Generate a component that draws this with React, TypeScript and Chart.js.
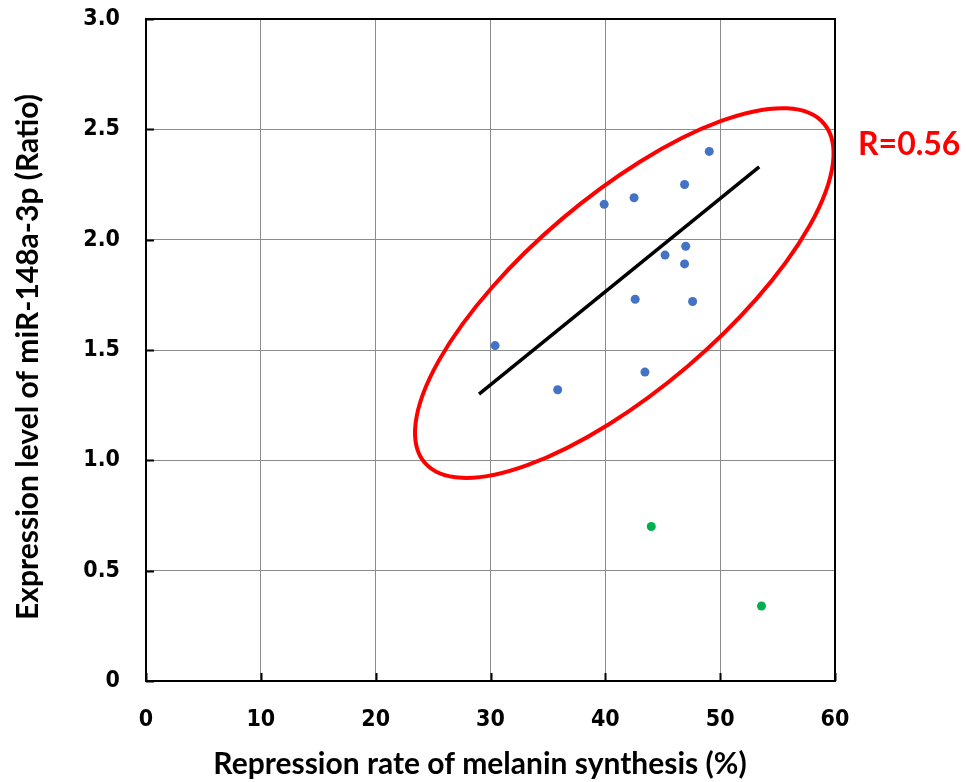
import React, { useEffect, useRef } from "react";
import { Chart, registerables } from "chart.js";

Chart.register(...registerables);

// Blue group (inside ellipse)
const blueX = [30.4, 35.85, 39.9, 42.5, 46.9, 49.05, 45.2, 47.0, 46.9, 42.6, 47.6, 43.45];
const blueY = [1.52, 1.32, 2.16, 2.19, 2.25, 2.40, 1.93, 1.97, 1.89, 1.73, 1.72, 1.40];
// Green outliers
const greenX = [44.0, 53.6];
const greenY = [0.70, 0.34];
// Regression line end points
const lineX = [29.0, 53.4];
const lineY = [1.30, 2.33];
// Ellipse (data units): center, end of major semi-axis, end of minor semi-axis
const ellipseCenter = [41.65, 1.758];
const ellipseMajorEnd = [59.04, 2.526];
const ellipseMinorEnd = [47.1, 1.423];
// Axis ticks
const xTicks = [0, 10, 20, 30, 40, 50, 60];
const yTicks = [0, 0.5, 1.0, 1.5, 2.0, 2.5, 3.0];
const annotationText = "R=0.56";
const xTitle = "Repression rate of melanin synthesis (%)";
const yTitle = "Expression level of miR-148a-3p (Ratio)";

const tickFont = { family: "'DejaVu Sans Condensed', 'DejaVu Sans'", weight: "bold", size: 23 };

const frameAndExtras = {
  id: "frameAndExtras",
  afterDatasetsDraw(chart: any) {
    const { ctx, scales } = chart;
    const xs = scales.x;
    const ys = scales.y;
    ctx.save();
    const cx = xs.getPixelForValue(ellipseCenter[0]);
    const cy = ys.getPixelForValue(ellipseCenter[1]);
    const ux = xs.getPixelForValue(ellipseMajorEnd[0]) - cx;
    const uy = ys.getPixelForValue(ellipseMajorEnd[1]) - cy;
    const vx = xs.getPixelForValue(ellipseMinorEnd[0]) - cx;
    const vy = ys.getPixelForValue(ellipseMinorEnd[1]) - cy;
    ctx.save();
    ctx.translate(cx, cy);
    ctx.transform(ux, uy, vx, vy, 0, 0);
    ctx.beginPath();
    ctx.arc(0, 0, 1, 0, Math.PI * 2);
    ctx.restore();
    ctx.strokeStyle = "#FF0000";
    ctx.lineWidth = 4;
    ctx.stroke();
    ctx.restore();
  },
  afterDraw(chart: any) {
    const { ctx, chartArea, scales } = chart;
    const xs = scales.x;
    const ys = scales.y;
    ctx.save();
    ctx.strokeStyle = "#000";
    ctx.lineWidth = 2;
    ctx.strokeRect(chartArea.left, chartArea.top, chartArea.right - chartArea.left, chartArea.bottom - chartArea.top);
    ctx.beginPath();
    xTicks.forEach((t) => {
      const p = Math.round(xs.getPixelForValue(t)) + 0.5;
      ctx.moveTo(p, chartArea.bottom);
      ctx.lineTo(p, chartArea.bottom - 8);
    });
    yTicks.forEach((t) => {
      const p = Math.round(ys.getPixelForValue(t)) + 0.5;
      ctx.moveTo(chartArea.left, p);
      ctx.lineTo(chartArea.left + 8, p);
    });
    ctx.stroke();
    // axis titles
    ctx.fillStyle = "#000";
    ctx.font = "bold 30px Lato";
    ctx.textAlign = "center";
    ctx.textBaseline = "middle";
    ctx.fillText(xTitle, 480, 764);
    ctx.save();
    ctx.translate(28, 357);
    ctx.rotate(-Math.PI / 2);
    ctx.fillText(yTitle, 0, 0);
    ctx.restore();
    // annotation
    ctx.fillStyle = "#FF0000";
    ctx.font = "bold 32px Lato";
    ctx.textAlign = "left";
    ctx.fillText(annotationText, 858, ys.getPixelForValue(2.43));
    ctx.restore();
  },
};

export default function App() {
  const ref = useRef<HTMLCanvasElement>(null);
  useEffect(() => {
    if (!ref.current) return;
    const chart = new Chart(ref.current, {
      type: "scatter",
      data: {
        datasets: [
          {
            type: "line",
            data: lineX.map((x, i) => ({ x, y: lineY[i] })),
            borderColor: "#000000",
            borderWidth: 3.5,
            pointRadius: 0,
            fill: false,
          } as any,
          {
            data: blueX.map((x, i) => ({ x, y: blueY[i] })),
            backgroundColor: "#4472C4",
            borderWidth: 0,
            pointRadius: 4.5,
          },
          {
            data: greenX.map((x, i) => ({ x, y: greenY[i] })),
            backgroundColor: "#00B050",
            borderWidth: 0,
            pointRadius: 4.5,
          },
        ],
      },
      options: {
        responsive: false,
        devicePixelRatio: 1,
        animation: false,
        layout: { padding: { top: 19, right: 132, left: 0, bottom: 0 } },
        plugins: { legend: { display: false }, tooltip: { enabled: false } },
        scales: {
          x: {
            type: "linear",
            min: 0,
            max: 60,
            afterBuildTicks: (s: any) => {
              s.ticks = xTicks.map((v) => ({ value: v }));
            },
            afterFit: (s: any) => {
              s.height = 101;
              s.paddingLeft = 0;
              s.paddingRight = 0;
            },
            ticks: {
              font: tickFont as any,
              color: "#000",
              padding: 25,
              maxRotation: 0,
            },
            grid: { color: "#8c8c8c", lineWidth: 1, drawTicks: false },
            border: { display: false },
          },
          y: {
            type: "linear",
            min: 0,
            max: 3,
            afterBuildTicks: (s: any) => {
              s.ticks = yTicks.map((v) => ({ value: v }));
            },
            afterFit: (s: any) => {
              s.width = 146;
              s.paddingTop = 0;
              s.paddingBottom = 0;
            },
            ticks: {
              font: tickFont as any,
              color: "#000",
              padding: 26,
              callback: (v: any) => (Number(v) === 0 ? "0" : Number(v).toFixed(1)),
            },
            grid: { color: "#8c8c8c", lineWidth: 1, drawTicks: false },
            border: { display: false },
          },
        },
      },
      plugins: [frameAndExtras],
    });
    return () => chart.destroy();
  }, []);
  return (
    <div style={{ position: "fixed", left: 0, top: 0, width: 967, height: 782, background: "#fff" }}>
      <canvas ref={ref} width={967} height={782} style={{ display: "block" }} />
    </div>
  );
}
